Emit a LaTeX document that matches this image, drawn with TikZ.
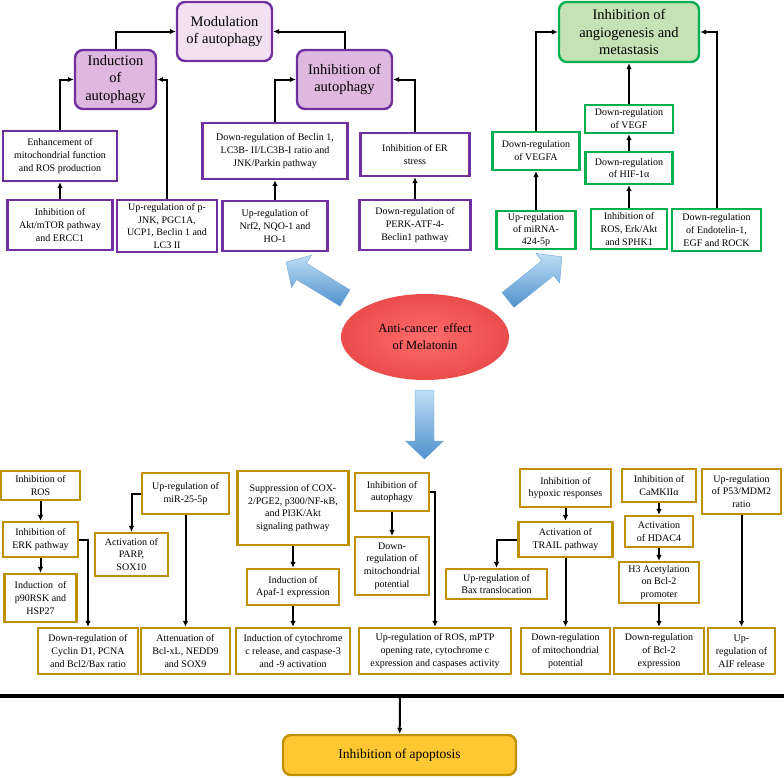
\documentclass[tikz,border=0pt]{standalone}
\usepackage{fontspec}
\setmainfont{Liberation Serif}
\usetikzlibrary{arrows.meta,positioning,shapes.geometric}
\definecolor{purp}{RGB}{112,48,160}
\definecolor{purpfill}{RGB}{243,225,243}
\definecolor{purpdark}{RGB}{222,184,222}
\definecolor{grn}{RGB}{0,176,80}
\definecolor{grnfill}{RGB}{197,226,180}
\definecolor{gold}{RGB}{191,144,0}
\definecolor{apopfill}{RGB}{255,200,50}
\definecolor{melred}{RGB}{255,82,82}
\definecolor{bluelt}{RGB}{190,222,245}
\definecolor{bluedk}{RGB}{80,145,205}

\begin{document}
\begin{tikzpicture}[x=1pt,y=-1pt,
    every node/.style={align=center,inner sep=1pt},
    sm/.style={font=\fontsize{10}{12.8}\selectfont},
    pb/.style={sm,draw=purp,line width=2.2pt,fill=white},
    gb/.style={sm,draw=grn,line width=2.2pt,fill=white},
    ob/.style={sm,draw=gold,line width=2.2pt,fill=white},
    ttl/.style={rounded corners=8pt,line width=2.4pt,font=\fontsize{14.5}{17.5}\selectfont},
    arr/.style={-{Latex[length=6pt,width=5.5pt]},line width=2pt},
    fat/.style={top color=bluelt,bottom color=bluedk,draw=bluedk!80,line width=0.4pt}]
  \useasboundingbox (0,0) rectangle (784,777);

  % autophagy branch
  \node[ttl,draw=purp,fill=purpfill,minimum width=95pt,minimum height=59pt] (modul) at (224.5,31.5) {Modulation\\of autophagy};
  \node[ttl,draw=purp,fill=purpdark,minimum width=81pt,minimum height=59pt] (induc) at (115.5,79.5) {Induction\\of\\autophagy};
  \node[ttl,draw=purp,fill=purpdark,minimum width=95pt,minimum height=59pt] (inhib) at (344.5,79.5) {Inhibition of\\autophagy};
  \node[pb,minimum width=114pt,minimum height=50pt] (enh) at (60,156) {Enhancement of\\mitochondrial function\\and ROS production};
  \node[pb,minimum width=105pt,minimum height=50pt] (akt) at (60,225) {Inhibition of\\Akt/mTOR pathway\\and ERCC1};
  \node[pb,minimum width=100pt,minimum height=52pt] (pjnk) at (167,226) {Up-regulation of p-\\JNK, PGC1A,\\UCP1, Beclin 1 and\\LC3 II};
  \node[pb,minimum width=145pt,minimum height=56pt] (beclin) at (275,151) {Down-regulation of Beclin 1,\\LC3B- II/LC3B-I ratio and\\JNK/Parkin pathway};
  \node[pb,minimum width=105pt,minimum height=50pt] (nrf) at (275,226) {Up-regulation of\\Nrf2, NQO-1 and\\HO-1};
  \node[pb,minimum width=109pt,minimum height=43pt] (er) at (415,154.5) {Inhibition of ER\\stress};
  \node[pb,minimum width=111pt,minimum height=50pt] (perk) at (415,225) {Down-regulation of\\PERK-ATF-4-\\Beclin1 pathway};
  \draw[arr] (induc.north) |- (modul.west);
  \draw[arr] (inhib.north) |- (modul.east);
  \draw[arr] (enh.north) |- (induc.west);
  \draw[arr] (pjnk.north) |- (induc.east);
  \draw[arr] (akt) -- (enh);
  \draw[arr] (beclin.north) |- (inhib.west);
  \draw[arr] (er.north) |- (inhib.east);
  \draw[arr] (nrf) -- (beclin);
  \draw[arr] (perk) -- (er);

  % angiogenesis branch
  \node[ttl,draw=grn,fill=grnfill,minimum width=140pt,minimum height=60pt] (angio) at (629,32) {Inhibition of\\angiogenesis and\\metastasis};
  \node[gb,minimum width=88pt,minimum height=28pt] (vegf) at (629,119) {Down-regulation\\of VEGF};
  \node[gb,minimum width=87pt,minimum height=32pt] (hif) at (629,168) {Down-regulation\\of HIF-1α};
  \node[gb,minimum width=76pt,minimum height=40pt] (rosk) at (629,229) {Inhibition of\\ROS, Erk/Akt\\and SPHK1};
  \node[gb,minimum width=87pt,minimum height=38pt] (vegfa) at (536,151) {Down-regulation\\of VEGFA};
  \node[gb,minimum width=79pt,minimum height=38pt,font=\fontsize{10}{11.8}\selectfont] (mirna) at (536,230) {Up-regulation\\of miRNA-\\424-5p};
  \node[gb,minimum width=89pt,minimum height=42pt] (endo) at (716.5,230) {Down-regulation\\of Endotelin-1,\\EGF and ROCK};
  \draw[arr] (vegfa.north) |- (angio.west);
  \draw[arr] (endo.north) |- (angio.east);
  \draw[arr] (vegf) -- (angio);
  \draw[arr] (hif) -- (vegf);
  \draw[arr] (rosk) -- (hif);
  \draw[arr] (mirna) -- (vegfa);

  % centre
  \node[ellipse,minimum width=168pt,minimum height=86pt,inner color=melred!85!white,outer color=melred!92!black,
        font=\fontsize{12.5}{17}\selectfont] (mel) at (425,337) {Anti-cancer\ \ effect\\of Melatonin};
  \foreach \tx/\ty/\ang in {345/298/148.6, 508/300/38.7, 424.5/390/-90}
    \shadedraw[fat,shift={(\tx,\ty)},rotate=\ang]
      (0,-9.5) -- (51,-9.5) -- (51,-19) -- (69,0) -- (51,19) -- (51,9.5) -- (0,9.5) -- cycle;

  % apoptosis branch
  \node[ob,minimum width=79pt,minimum height=29pt] (ros) at (40.5,485.5) {Inhibition of\\ROS};
  \node[ob,minimum width=75pt,minimum height=35pt] (erk) at (40.5,539.5) {Inhibition of\\ERK pathway};
  \node[ob,minimum width=72pt,minimum height=48pt] (p90) at (40.5,598) {Induction\ \ of\\p90RSK and\\HSP27};
  \node[ob,minimum width=87pt,minimum height=41pt] (mir) at (185.5,493.5) {Up-regulation of\\miR-25-5p};
  \node[ob,minimum width=73pt,minimum height=43pt] (parp) at (131.5,554.5) {Activation of\\PARP,\\SOX10};
  \node[ob,minimum width=111pt,minimum height=74pt] (sup) at (293,508) {Suppression of COX-\\2/PGE2, p300/NF-κB,\\and PI3K/Akt\\signaling pathway};
  \node[ob,minimum width=92pt,minimum height=36pt] (apaf) at (293,587) {Induction of\\Apaf-1 expression};
  \node[ob,minimum width=74pt,minimum height=38pt] (autoph) at (392,492) {Inhibition of\\autophagy};
  \node[ob,minimum width=74pt,minimum height=58pt] (mito1) at (392,566) {Down-\\regulation of\\mitochondrial\\potential};
  \node[ob,minimum width=91pt,minimum height=38pt] (hyp) at (565.5,488) {Inhibition of\\hypoxic responses};
  \node[ob,minimum width=94pt,minimum height=35pt] (trail) at (565.5,539.5) {Activation of\\TRAIL pathway};
  \node[ob,minimum width=101pt,minimum height=30pt] (bax) at (496.5,584) {Up-regulation of\\Bax translocation};
  \node[ob,minimum width=74pt,minimum height=33pt] (camk) at (659,485.5) {Inhibition of\\CaMKIIα};
  \node[ob,minimum width=68pt,minimum height=31pt] (hdac) at (659,531.5) {Activation\\of HDAC4};
  \node[ob,minimum width=80pt,minimum height=41pt] (h3) at (659,582.5) {H3 Acetylation\\on Bcl-2\\promoter};
  \node[ob,minimum width=79pt,minimum height=45pt] (p53) at (741.5,491.5) {Up-regulation\\of P53/MDM2\\ratio};

  \node[ob,minimum width=100pt,minimum height=46pt] (cyclin) at (88,651) {Down-regulation of\\Cyclin D1, PCNA\\and Bcl2/Bax ratio};
  \node[ob,minimum width=89pt,minimum height=46pt] (bclxl) at (185.5,651) {Attenuation of\\Bcl-xL, NEDD9\\and SOX9};
  \node[ob,minimum width=114pt,minimum height=46pt] (cyto) at (293,651) {Induction of cytochrome\\c release, and caspase-3\\and -9 activation};
  \node[ob,minimum width=152pt,minimum height=46pt] (mptp) at (435,651) {Up-regulation of ROS, mPTP\\opening rate, cytochrome c\\expression and caspases activity};
  \node[ob,minimum width=89pt,minimum height=46pt] (mito2) at (565.5,651) {Down-regulation\\of mitochondrial\\potential};
  \node[ob,minimum width=90pt,minimum height=46pt] (bcl2) at (659,651) {Down-regulation\\of Bcl-2\\expression};
  \node[ob,minimum width=67pt,minimum height=46pt] (aif) at (741.5,651) {Up-\\regulation of\\AIF release};

  \draw[arr] (ros) -- (erk);
  \draw[arr] (erk) -- (p90);
  \draw[arr] (erk.east) -| (cyclin.north);
  \draw[arr] (mir.west) -| (parp.north);
  \draw[arr] (mir) -- (bclxl);
  \draw[arr] (sup) -- (apaf);
  \draw[arr] (apaf) -- (cyto);
  \draw[arr] (autoph) -- (mito1);
  \draw[arr] (autoph.east) -| (mptp.north);
  \draw[arr] (hyp) -- (trail);
  \draw[arr] (trail.west) -| (bax.north);
  \draw[arr] (trail) -- (mito2);
  \draw[arr] (camk) -- (hdac);
  \draw[arr] (hdac) -- (h3);
  \draw[arr] (h3) -- (bcl2);
  \draw[arr] (p53) -- (aif);

  % outcome
  \coordinate (barL) at (0,696);
  \coordinate (barR) at (784,696);
  \coordinate (barM) at (400,696);
  \draw[line width=3.5pt] (barL) -- (barR);
  \node[ttl,draw=gold,fill=apopfill,minimum width=233pt,minimum height=40pt,font=\fontsize{13.5}{16}\selectfont] (apop) at (399.5,755) {Inhibition of apoptosis};
  \draw[arr] (barM) -- (apop);
\end{tikzpicture}
\end{document}
